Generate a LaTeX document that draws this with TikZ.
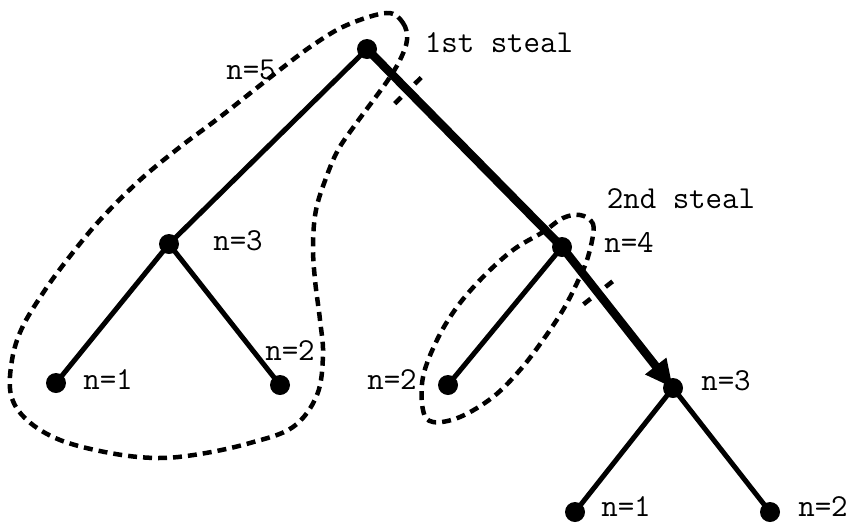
\documentclass[tikz,border=0pt]{standalone}
\usetikzlibrary{arrows.meta,calc}
\begin{document}
\begin{tikzpicture}[x=1pt,y=-1pt,
  vertex/.style={circle,fill=black,inner sep=0pt,minimum size=20pt},
  lbl/.style={font=\ttfamily\fontsize{32}{32}\selectfont,inner sep=0pt},
  branch/.style={line width=5pt},
  stolen/.style={line width=8.5pt},
  group/.style={line width=4.5pt,dash pattern=on 9pt off 6pt},
  tick/.style={line width=4.5pt,dash pattern=on 9pt off 19pt}]
\useasboundingbox (0,0) rectangle (852,523);

% tree vertices
\node[vertex] (root) at (367,49) {};
\node[vertex] (a)  at (169,244) {};
\node[vertex] (a1) at (56,383) {};
\node[vertex] (a2) at (280,385) {};
\node[vertex] (b)  at (562,247) {};
\node[vertex] (b1) at (448,385) {};
\node[vertex] (c)  at (673,388) {};
\node[vertex] (c1) at (575,512) {};
\node[vertex] (c2) at (770,512) {};

% ordinary branches
\draw[branch] (root.center) -- (a.center);
\draw[branch] (a.center) -- (a1.center);
\draw[branch] (a.center) -- (a2.center);
\draw[branch] (b.center) -- (b1.center);
\draw[branch] (c.center) -- (c1.center);
\draw[branch] (c.center) -- (c2.center);

% path followed by the thief
\draw[stolen] (root.center) -- (b.center);
\draw[stolen,-{Triangle[length=28pt,width=25pt]}] (b.center) -- (c.center);

% cut marks across the stolen branches
\coordinate (t1) at ($(root)!0.21!(b)$);
\coordinate (t2) at ($(b)!0.325!(c)$);
\draw[tick] ($(t1)!18.5pt!90:(b)$) -- ($(t1)!18.5pt!-90:(b)$);
\draw[tick] ($(t2)!18.5pt!90:(c)$) -- ($(t2)!18.5pt!-90:(c)$);

% work taken by the first steal
\draw[group] plot[smooth cycle, tension=0.6] coordinates {
  (387,13) (403,23) (407,40) (400,60) (388,80) (372,102) (355,125)
  (338,150) (326,178) (316,210) (313,245) (315,280) (320,320) (323,355)
  (317,395) (293,427) (250,443) (200,454) (157,458) (110,453) (60,440)
  (27,420) (11,395) (12,360) (22,328) (43,293) (67,260) (100,220)
  (140,180) (180,147) (220,117) (277,72) (313,45) (347,25)};

% work taken by the second steal
\draw[group] plot[smooth cycle, tension=0.6] coordinates {
  (580,215) (592,222) (593,235) (587,260) (577,283) (563,310) (543,340)
  (520,370) (493,397) (460,417) (433,422) (423,410) (423,377) (437,340)
  (457,307) (483,277) (513,250) (543,232) (563,218)};

% labels
\node[lbl] (l5)  at (251,70)  {n=5};
\node[lbl] (s1)  at (499,43)  {1st steal};
\node[lbl] (la)  at (238,241) {n=3};
\node[lbl] (la1) at (108,380) {n=1};
\node[lbl] (la2) at (290,351) {n=2};
\node[lbl] (s2)  at (681,199) {2nd steal};
\node[lbl] (lb)  at (629,242) {n=4};
\node[lbl] (lb1) at (392,380) {n=2};
\node[lbl] (lc)  at (726,381) {n=3};
\node[lbl] (lc1) at (626,507) {n=1};
\node[lbl] (lc2) at (823,507) {n=2};
\end{tikzpicture}
\end{document}
